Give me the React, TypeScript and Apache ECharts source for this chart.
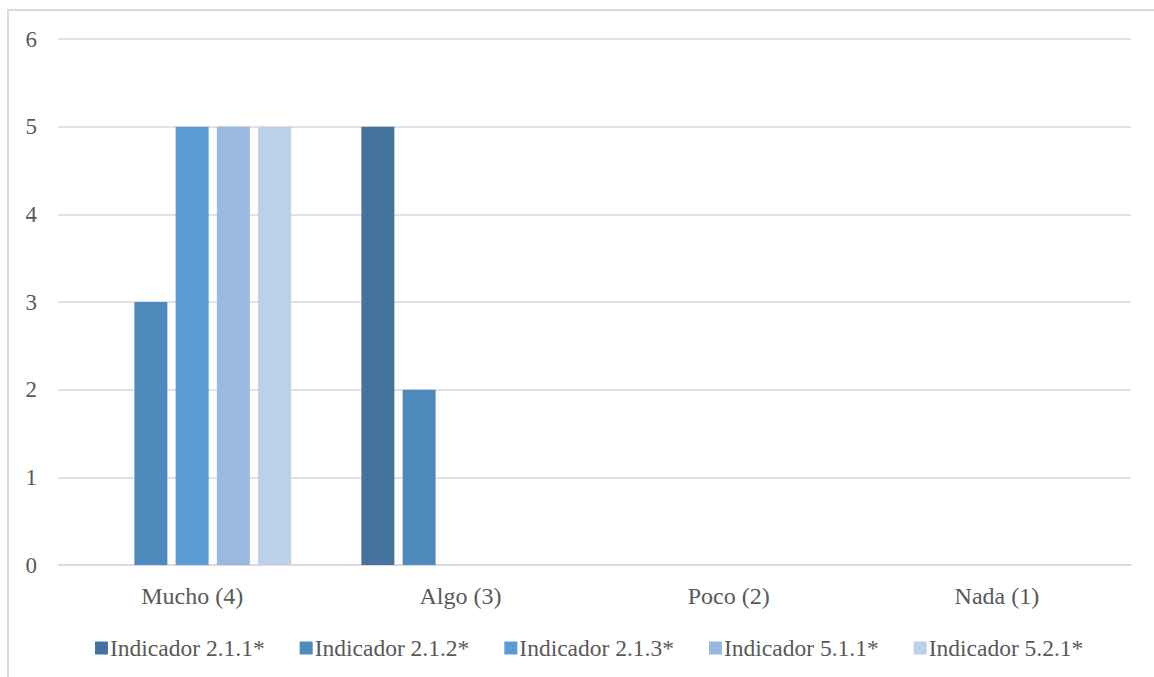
import React, { useEffect, useRef } from "react";
import * as echarts from "echarts";

// Response categories on the x axis
const categories = ["Mucho (4)", "Algo (3)", "Poco (2)", "Nada (1)"];

// Number of responses per indicator, one value per category
const indicador211 = [0, 5, 0, 0];
const indicador212 = [3, 2, 0, 0];
const indicador213 = [5, 0, 0, 0];
const indicador511 = [5, 0, 0, 0];
const indicador521 = [5, 0, 0, 0];

const seriesNames = [
  "Indicador 2.1.1*",
  "Indicador 2.1.2*",
  "Indicador 2.1.3*",
  "Indicador 5.1.1*",
  "Indicador 5.2.1*",
];
const seriesValues = [indicador211, indicador212, indicador213, indicador511, indicador521];
const seriesColors = ["#44739f", "#4f8abd", "#5b9bd5", "#99b9df", "#bdd0e9"];

const FONT = "Times New Roman, Liberation Serif, serif";
const TEXT_COLOR = "#595959";
const GRID_COLOR = "#d9d9d9";

export default function App() {
  const ref = useRef<HTMLDivElement>(null);

  useEffect(() => {
    if (!ref.current) return;
    const chart = echarts.init(ref.current, undefined, { renderer: "svg" });
    chart.setOption({
      animation: false,
      backgroundColor: "#ffffff",
      textStyle: { fontFamily: FONT },
      graphic: [
        {
          type: "rect",
          shape: { x: 8, y: 10, width: 1400, height: 900 },
          style: { fill: "none", stroke: GRID_COLOR, lineWidth: 2 },
          silent: true,
          z: -10,
        },
      ],
      grid: { left: 58, right: 23, top: 39, bottom: 677 - 565, containLabel: false },
      legend: {
        data: seriesNames,
        left: 95,
        top: 636,
        padding: 0,
        itemWidth: 13,
        itemHeight: 13,
        itemGap: 35,
        icon: "rect",
        textStyle: {
          fontFamily: FONT,
          fontSize: 23.5,
          color: TEXT_COLOR,
          lineHeight: 23,
          padding: [0, 0, 0, -3],
        },
      },
      xAxis: {
        type: "category",
        data: categories,
        axisLine: { show: true, lineStyle: { color: GRID_COLOR, width: 1.5 } },
        axisTick: { show: false },
        axisLabel: {
          fontFamily: FONT,
          fontSize: 24,
          color: TEXT_COLOR,
          margin: 19,
          lineHeight: 24,
        },
      },
      yAxis: {
        type: "value",
        min: 0,
        max: 6,
        interval: 1,
        axisLine: { show: false },
        axisTick: { show: false },
        splitLine: { lineStyle: { color: GRID_COLOR, width: 1.5 } },
        axisLabel: {
          fontFamily: FONT,
          fontSize: 23,
          color: TEXT_COLOR,
          margin: 21,
        },
      },
      series: seriesNames.map((name, i) => ({
        name,
        type: "bar",
        data: seriesValues[i],
        barWidth: 33,
        barGap: "25%",
        itemStyle: { color: seriesColors[i] },
      })),
    });
    return () => chart.dispose();
  }, []);

  return (
    <div
      ref={ref}
      style={{ position: "absolute", left: 0, top: 0, width: 1154, height: 677 }}
    />
  );
}
